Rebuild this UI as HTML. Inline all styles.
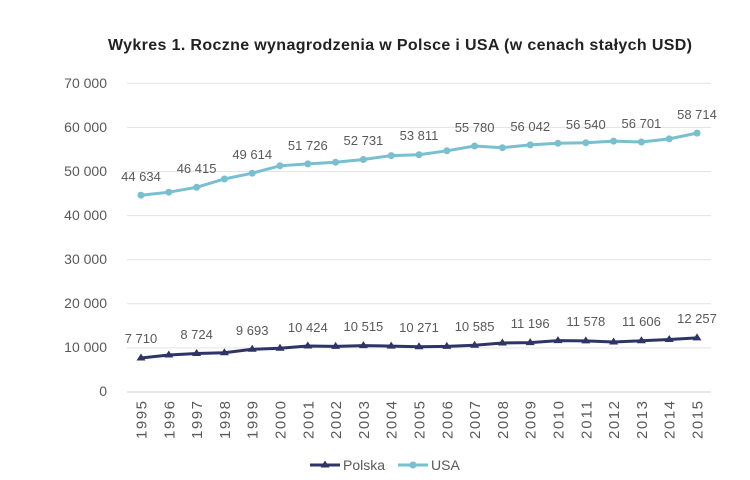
<!DOCTYPE html>
<html><head><meta charset="utf-8"><style>
html,body{margin:0;padding:0;background:#fff;}
svg{display:block;font-family:"Liberation Sans",sans-serif;}
</style></head><body>
<svg width="750" height="480" viewBox="0 0 750 480">
<text x="108" y="50" font-size="16" font-weight="bold" fill="#222" textLength="584">Wykres 1. Roczne wynagrodzenia w Polsce i USA (w cenach stałych USD)</text>
<g stroke="#e3e3e3" stroke-width="1">
<line x1="127" x2="711" y1="83.3" y2="83.3"/><line x1="127" x2="711" y1="127.4" y2="127.4"/>
<line x1="127" x2="711" y1="171.5" y2="171.5"/><line x1="127" x2="711" y1="215.6" y2="215.6"/>
<line x1="127" x2="711" y1="259.7" y2="259.7"/><line x1="127" x2="711" y1="303.8" y2="303.8"/>
<line x1="127" x2="711" y1="347.9" y2="347.9"/></g>
<line x1="127" x2="711" y1="392" y2="392" stroke="#d0d0d0"/>
<g font-size="14" fill="#595959" text-anchor="end">
<text x="107" y="88">70 000</text><text x="107" y="132">60 000</text><text x="107" y="176">50 000</text>
<text x="107" y="220">40 000</text><text x="107" y="264">30 000</text><text x="107" y="308">20 000</text>
<text x="107" y="352">10 000</text><text x="107" y="396">0</text></g>
<g font-size="15" fill="#595959" text-anchor="end">
<text transform="translate(146.5,401) rotate(-90)" textLength="38">1995</text><text transform="translate(174.3,401) rotate(-90)" textLength="38">1996</text>
<text transform="translate(202.1,401) rotate(-90)" textLength="38">1997</text><text transform="translate(229.9,401) rotate(-90)" textLength="38">1998</text>
<text transform="translate(257.7,401) rotate(-90)" textLength="38">1999</text><text transform="translate(285.5,401) rotate(-90)" textLength="38">2000</text>
<text transform="translate(313.3,401) rotate(-90)" textLength="38">2001</text><text transform="translate(341.1,401) rotate(-90)" textLength="38">2002</text>
<text transform="translate(368.9,401) rotate(-90)" textLength="38">2003</text><text transform="translate(396.7,401) rotate(-90)" textLength="38">2004</text>
<text transform="translate(424.5,401) rotate(-90)" textLength="38">2005</text><text transform="translate(452.3,401) rotate(-90)" textLength="38">2006</text>
<text transform="translate(480.1,401) rotate(-90)" textLength="38">2007</text><text transform="translate(507.9,401) rotate(-90)" textLength="38">2008</text>
<text transform="translate(535.7,401) rotate(-90)" textLength="38">2009</text><text transform="translate(563.5,401) rotate(-90)" textLength="38">2010</text>
<text transform="translate(591.3,401) rotate(-90)" textLength="38">2011</text><text transform="translate(619.1,401) rotate(-90)" textLength="38">2012</text>
<text transform="translate(646.9,401) rotate(-90)" textLength="38">2013</text><text transform="translate(674.7,401) rotate(-90)" textLength="38">2014</text>
<text transform="translate(702.5,401) rotate(-90)" textLength="38">2015</text></g>
<polyline fill="none" stroke="#78bfcf" stroke-width="3" points="141,195.2 168.8,192.2 196.6,187.3 224.4,179 252.2,173.2 280,165.8 307.8,163.9 335.6,162.2 363.4,159.5 391.2,155.6 419,154.7 446.8,150.8 474.6,146 502.4,147.7 530.2,144.9 558,143.3 585.8,142.7 613.6,141.1 641.4,142 669.2,138.9 697,133.1"/>
<g fill="#78bfcf">
<circle cx="141" cy="195.2" r="3.5"/><circle cx="168.8" cy="192.2" r="3.5"/><circle cx="196.6" cy="187.3" r="3.5"/><circle cx="224.4" cy="179" r="3.5"/><circle cx="252.2" cy="173.2" r="3.5"/><circle cx="280" cy="165.8" r="3.5"/><circle cx="307.8" cy="163.9" r="3.5"/><circle cx="335.6" cy="162.2" r="3.5"/><circle cx="363.4" cy="159.5" r="3.5"/><circle cx="391.2" cy="155.6" r="3.5"/><circle cx="419" cy="154.7" r="3.5"/><circle cx="446.8" cy="150.8" r="3.5"/><circle cx="474.6" cy="146" r="3.5"/><circle cx="502.4" cy="147.7" r="3.5"/><circle cx="530.2" cy="144.9" r="3.5"/><circle cx="558" cy="143.3" r="3.5"/><circle cx="585.8" cy="142.7" r="3.5"/><circle cx="613.6" cy="141.1" r="3.5"/><circle cx="641.4" cy="142" r="3.5"/><circle cx="669.2" cy="138.9" r="3.5"/><circle cx="697" cy="133.1" r="3.5"/></g>
<polyline fill="none" stroke="#2e3466" stroke-width="3" points="141,358 168.8,355 196.6,353.5 224.4,352.8 252.2,349.3 280,348.3 307.8,346 335.6,346.4 363.4,345.6 391.2,346.1 419,346.7 446.8,346.4 474.6,345.3 502.4,343 530.2,342.6 558,340.6 585.8,340.9 613.6,342 641.4,340.8 669.2,339.5 697,337.9"/>
<g fill="#2e3466">
<path d="M141,353.5l4.5,7h-9z"/><path d="M168.8,350.5l4.5,7h-9z"/><path d="M196.6,349l4.5,7h-9z"/><path d="M224.4,348.3l4.5,7h-9z"/><path d="M252.2,344.8l4.5,7h-9z"/><path d="M280,343.8l4.5,7h-9z"/><path d="M307.8,341.5l4.5,7h-9z"/><path d="M335.6,341.9l4.5,7h-9z"/><path d="M363.4,341.1l4.5,7h-9z"/><path d="M391.2,341.6l4.5,7h-9z"/><path d="M419,342.2l4.5,7h-9z"/><path d="M446.8,341.9l4.5,7h-9z"/><path d="M474.6,340.8l4.5,7h-9z"/><path d="M502.4,338.5l4.5,7h-9z"/><path d="M530.2,338.1l4.5,7h-9z"/><path d="M558,336.1l4.5,7h-9z"/><path d="M585.8,336.4l4.5,7h-9z"/><path d="M613.6,337.5l4.5,7h-9z"/><path d="M641.4,336.3l4.5,7h-9z"/><path d="M669.2,335l4.5,7h-9z"/><path d="M697,333.4l4.5,7h-9z"/></g>
<g font-size="13" fill="#595959" text-anchor="middle">
<text x="141" y="181">44 634</text><text x="196.6" y="173">46 415</text><text x="252.2" y="159">49 614</text>
<text x="307.8" y="150">51 726</text><text x="363.4" y="145">52 731</text><text x="419" y="140">53 811</text>
<text x="474.6" y="132">55 780</text><text x="530.2" y="131">56 042</text><text x="585.8" y="129">56 540</text>
<text x="641.4" y="128">56 701</text><text x="697" y="119">58 714</text>
<text x="141" y="343">7 710</text><text x="196.6" y="339">8 724</text><text x="252.2" y="335">9 693</text>
<text x="307.8" y="332">10 424</text><text x="363.4" y="331">10 515</text><text x="419" y="332">10 271</text>
<text x="474.6" y="331">10 585</text><text x="530.2" y="328">11 196</text><text x="585.8" y="326">11 578</text>
<text x="641.4" y="326">11 606</text><text x="697" y="323">12 257</text></g>
<line x1="310" x2="340" y1="465" y2="465" stroke="#2e3466" stroke-width="3"/>
<path d="M325,460.5l4.5,7h-9z" fill="#2e3466"/>
<text x="343" y="470" font-size="14" fill="#595959">Polska</text>
<line x1="398" x2="428" y1="465" y2="465" stroke="#78bfcf" stroke-width="3"/>
<circle cx="413" cy="465" r="3.5" fill="#78bfcf"/>
<text x="431" y="470" font-size="14" fill="#595959">USA</text>
</svg>
</body></html>
